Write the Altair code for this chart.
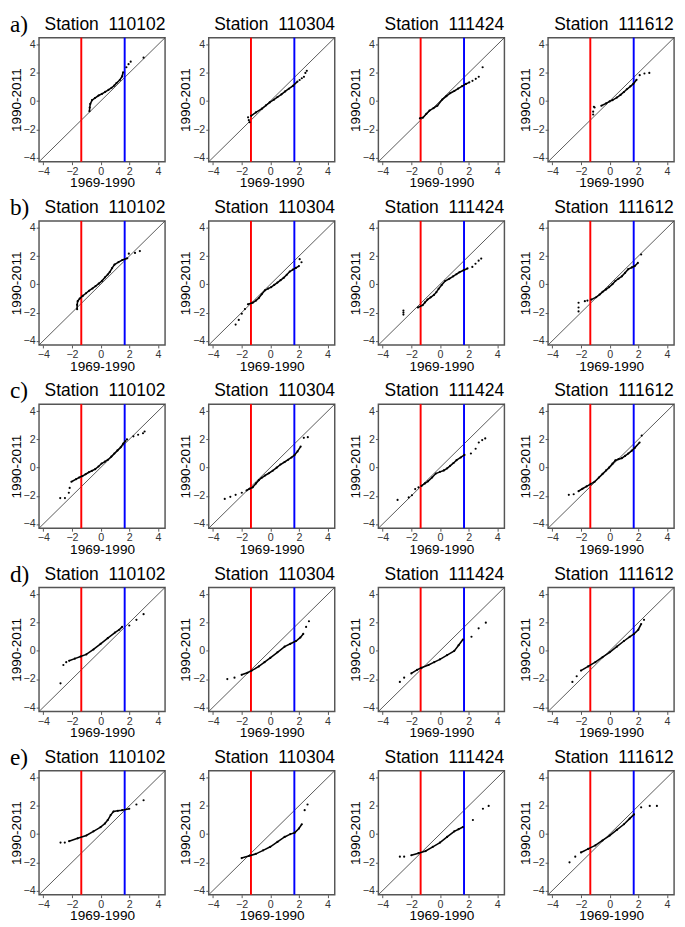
import altair as alt
import pandas as pd

# ---------------- data ----------------
STATIONS = ["110102", "110304", "111424", "111612"]
ROW_LABELS = ["a)", "b)", "c)", "d)", "e)"]
TICKS = [-4, -2, 0, 2, 4]
DOMAIN = [-4.3, 4.5]
RED_X = [-1.35]
BLUE_X = [1.68]
DIAG = [-4.3, 4.5]

# row a
A1_BODY = [(-0.78, -0.72), (-0.76, -0.45), (-0.72, -0.2), (-0.6, 0.07), (-0.4, 0.22), (-0.14, 0.4), (0.1, 0.52),
           (0.32, 0.66), (0.55, 0.8), (0.77, 0.95), (0.95, 1.1), (1.11, 1.28), (1.34, 1.5), (1.5, 1.75), (1.57, 2.05)]
A1_TAIL = [(1.8, 2.4), (1.95, 2.62), (2.1, 2.8), (3.0, 3.08)]
A2_BODY = [(-1.34, -1.04), (-1.0, -0.8), (-0.58, -0.53), (-0.3, -0.3), (-0.04, -0.09), (0.25, 0.1), (0.5, 0.29),
           (0.78, 0.48), (1.04, 0.69), (1.3, 0.88), (1.58, 1.08), (1.9, 1.39)]
A2_TAIL = [(-1.55, -1.15), (-1.5, -1.35), (-1.45, -1.5), (2.05, 1.5), (2.2, 1.62), (2.35, 1.72), (2.45, 2.0), (2.55, 2.15)]
A3_BODY = [(-1.4, -1.22), (-1.18, -1.16), (-0.95, -0.9), (-0.73, -0.67), (-0.45, -0.5), (-0.18, -0.33), (0.16, 0.11),
           (0.45, 0.35), (0.71, 0.56), (1.0, 0.72), (1.27, 0.89), (1.55, 1.06), (1.82, 1.22), (2.05, 1.33)]
A3_TAIL = [(2.27, 1.44), (2.5, 1.58), (2.71, 1.73), (2.98, 2.4)]
A4_BODY = [(-0.58, -0.33), (-0.25, -0.16), (0.0, -0.02), (0.2, 0.07), (0.5, 0.25), (0.76, 0.44), (1.0, 0.65),
           (1.2, 0.84), (1.45, 1.05), (1.65, 1.22), (1.88, 1.51)]
A4_TAIL = [(-1.1, -0.4), (-1.05, -0.45), (-1.15, -0.75), (-1.15, -0.95), (2.1, 1.84), (2.43, 1.96), (2.77, 2.0)]

# row b
B1_BODY = [(-1.64, -1.76), (-1.64, -1.45), (-1.6, -1.19), (-1.46, -1.01), (-1.25, -0.82), (-1.02, -0.63), (-0.8, -0.45),
           (-0.57, -0.29), (-0.35, -0.12), (-0.13, 0.05), (0.1, 0.25), (0.31, 0.5), (0.5, 0.7), (0.64, 0.88),
           (0.8, 1.15), (0.97, 1.4), (1.25, 1.58), (1.52, 1.73), (1.86, 1.85)]
B1_TAIL = [(1.97, 2.18), (2.4, 2.23), (2.74, 2.36)]
B2_BODY = [(-1.56, -1.41), (-1.23, -1.3), (-1.0, -1.15), (-0.8, -0.97), (-0.6, -0.7), (-0.37, -0.42), (-0.15, -0.3),
           (0.06, -0.2), (0.28, -0.03), (0.5, 0.13), (0.72, 0.3), (0.93, 0.46), (1.15, 0.68), (1.36, 0.91),
           (1.58, 1.05), (1.79, 1.17), (2.0, 1.3)]
B2_TAIL = [(-2.42, -2.85), (-2.2, -2.52), (-1.99, -2.08), (-1.77, -1.75), (2.18, 1.57), (2.05, 1.79)]
B3_BODY = [(-1.54, -1.64), (-1.21, -1.48), (-1.05, -1.28), (-0.87, -1.08), (-0.65, -0.92), (-0.42, -0.75),
           (-0.25, -0.55), (-0.09, -0.31), (0.12, -0.05), (0.36, 0.24), (0.65, 0.4), (0.92, 0.57), (1.15, 0.72),
           (1.36, 0.86), (1.65, 1.0), (1.92, 1.13)]
B3_TAIL = [(-2.55, -1.86), (-2.55, -2.0), (-2.55, -2.14), (2.26, 1.24), (2.48, 1.46), (2.7, 1.68), (2.88, 1.83)]
B4_BODY = [(-1.28, -1.08), (-0.94, -0.91), (-0.7, -0.72), (-0.49, -0.53), (-0.25, -0.36), (-0.04, -0.2), (0.2, 0.02),
           (0.4, 0.24), (0.62, 0.4), (0.85, 0.57), (1.08, 0.82), (1.3, 1.08), (1.55, 1.2), (1.75, 1.3), (1.97, 1.52)]
B4_TAIL = [(-2.17, -1.3), (-2.17, -1.64), (-2.17, -1.92), (-1.73, -1.19), (-1.55, -1.15), (2.2, 2.12)]

# row c
C1_BODY = [(-2.04, -1.0), (-1.71, -0.82), (-1.5, -0.7), (-1.27, -0.6), (-1.05, -0.47), (-0.82, -0.33), (-0.6, -0.22),
           (-0.38, -0.11), (-0.15, 0.08), (0.07, 0.29), (0.3, 0.42), (0.51, 0.56), (0.75, 0.78), (0.96, 1.0),
           (1.18, 1.22), (1.4, 1.44), (1.58, 1.7), (1.73, 1.89)]
C1_TAIL = [(-2.82, -2.16), (-2.49, -2.16), (-2.22, -1.78), (-2.16, -1.44), (1.84, 2.0), (2.29, 2.22), (2.62, 2.33),
           (2.96, 2.44), (3.07, 2.56)]
C2_BODY = [(-1.66, -1.62), (-1.45, -1.5), (-1.23, -1.4), (-1.0, -1.12), (-0.8, -0.89), (-0.6, -0.72), (-0.37, -0.56),
           (-0.1, -0.4), (0.17, -0.22), (0.45, 0.0), (0.71, 0.22), (1.0, 0.4), (1.25, 0.56), (1.48, 0.72),
           (1.69, 0.89), (1.9, 1.15), (2.12, 1.49)]
C2_TAIL = [(-3.18, -2.22), (-2.79, -2.07), (-2.42, -1.93), (-1.99, -1.78), (2.34, 2.11), (2.62, 2.16)]
C3_BODY = [(-1.29, -1.3), (-1.05, -1.12), (-0.84, -0.97), (-0.55, -0.7), (-0.29, -0.42), (0.0, -0.3), (0.27, -0.2),
           (0.5, -0.05), (0.71, 0.13), (0.95, 0.33), (1.16, 0.53), (1.45, 0.72), (1.71, 0.9)]
C3_TAIL = [(-2.96, -2.29), (-2.18, -2.11), (-1.96, -1.96), (-1.73, -1.52), (-1.5, -1.4), (2.16, 1.0), (2.49, 1.34),
           (2.71, 1.78), (2.95, 1.95), (3.16, 2.07)]
C4_BODY = [(-2.17, -1.67), (-1.9, -1.5), (-1.61, -1.33), (-1.33, -1.17), (-1.05, -1.0), (-0.75, -0.7), (-0.49, -0.44),
           (-0.25, -0.2), (-0.04, 0.0), (0.2, 0.28), (0.4, 0.51), (0.62, 0.6), (0.85, 0.67), (1.08, 0.83),
           (1.3, 1.0), (1.55, 1.2), (1.75, 1.4), (2.09, 1.78)]
C4_TAIL = [(-2.85, -1.93), (-2.51, -1.89), (2.24, 2.27)]

# row d
D1_BODY = [(-2.2, -0.7), (-1.8, -0.55), (-1.4, -0.4), (-1.0, -0.25), (-0.5, 0.1), (0.0, 0.5), (0.5, 0.9),
           (1.0, 1.3), (1.3, 1.5), (1.5, 1.7)]
D1_TAIL = [(-2.8, -2.3), (-2.6, -1.0), (-2.4, -0.8), (2.0, 1.8), (2.5, 2.2), (3.0, 2.6)]
D2_BODY = [(-2.0, -1.7), (-1.6, -1.55), (-1.3, -1.4), (-0.8, -1.1), (-0.4, -0.8), (0.0, -0.5), (0.5, -0.1),
           (1.0, 0.3), (1.4, 0.5), (1.8, 0.7), (2.1, 0.95), (2.3, 1.2)]
D2_TAIL = [(-3.0, -2.0), (-2.5, -1.9), (2.5, 1.7), (2.7, 2.1)]
D3_BODY = [(-2.0, -1.6), (-1.6, -1.35), (-1.3, -1.2), (-0.8, -1.0), (-0.4, -0.8), (0.0, -0.6), (0.5, -0.3),
           (1.0, 0.0), (1.3, 0.4), (1.6, 0.8)]
D3_TAIL = [(-2.8, -2.2), (-2.5, -1.9), (2.2, 1.0), (2.7, 1.6), (3.2, 2.0)]
D4_BODY = [(-2.0, -1.4), (-1.5, -1.1), (-1.0, -0.8), (-0.5, -0.45), (0.0, -0.1), (0.5, 0.3), (1.0, 0.7),
           (1.4, 1.0), (1.7, 1.2), (2.0, 1.5), (2.2, 1.9)]
D4_TAIL = [(-2.6, -2.2), (-2.3, -1.8), (2.4, 2.2)]

# row e
E1_BODY = [(-2.2, -0.5), (-1.6, -0.3), (-1.0, -0.1), (-0.5, 0.2), (0.0, 0.5), (0.3, 0.75), (0.5, 1.0),
           (0.7, 1.35), (0.9, 1.6), (1.2, 1.65), (1.5, 1.7), (2.0, 1.8)]
E1_TAIL = [(-2.8, -0.6), (-2.5, -0.6), (2.5, 2.1), (3.0, 2.4)]
E2_BODY = [(-2.0, -1.7), (-1.5, -1.55), (-1.0, -1.4), (-0.5, -1.15), (0.0, -0.9), (0.5, -0.55), (1.0, -0.2),
           (1.4, 0.0), (1.7, 0.1), (2.0, 0.4), (2.2, 0.7)]
E2_TAIL = [(2.4, 1.7), (2.6, 2.1)]
E3_BODY = [(-2.0, -1.5), (-1.5, -1.35), (-1.0, -1.2), (-0.5, -0.9), (0.0, -0.6), (0.5, -0.2), (1.0, 0.2),
           (1.3, 0.35), (1.6, 0.5)]
E3_TAIL = [(-2.8, -1.6), (-2.5, -1.6), (2.3, 1.0), (3.0, 1.8), (3.4, 2.0)]
E4_BODY = [(-2.0, -1.3), (-1.5, -1.05), (-1.0, -0.8), (-0.5, -0.45), (0.0, -0.1), (0.5, 0.3), (1.0, 0.7),
           (1.4, 1.1), (1.7, 1.4)]
E4_TAIL = [(-2.8, -2.0), (-2.4, -1.6), (2.2, 1.9), (2.8, 2.0), (3.3, 2.0)]

PANELS = [
    [(A1_BODY, A1_TAIL), (A2_BODY, A2_TAIL), (A3_BODY, A3_TAIL), (A4_BODY, A4_TAIL)],
    [(B1_BODY, B1_TAIL), (B2_BODY, B2_TAIL), (B3_BODY, B3_TAIL), (B4_BODY, B4_TAIL)],
    [(C1_BODY, C1_TAIL), (C2_BODY, C2_TAIL), (C3_BODY, C3_TAIL), (C4_BODY, C4_TAIL)],
    [(D1_BODY, D1_TAIL), (D2_BODY, D2_TAIL), (D3_BODY, D3_TAIL), (D4_BODY, D4_TAIL)],
    [(E1_BODY, E1_TAIL), (E2_BODY, E2_TAIL), (E3_BODY, E3_TAIL), (E4_BODY, E4_TAIL)],
]

# ---------------- chart ----------------
W = 130
H = 128
FONT = "Liberation Sans"

scale = alt.Scale(domain=DOMAIN, nice=False, zero=False)
X = alt.X("x:Q", scale=scale,
          axis=alt.Axis(values=TICKS, title="1969-1990", labelFlush=False))
Y = alt.Y("y:Q", scale=scale,
          axis=alt.Axis(values=TICKS, title="1990-2011", labelFlush=False))


def panel(body, tail, station, row_label):
    bdf = pd.DataFrame(body, columns=["x", "y"])
    tdf = pd.DataFrame(tail, columns=["x", "y"])
    ddf = pd.DataFrame({"x": DIAG, "y": DIAG})
    rdf = pd.DataFrame({"x": RED_X})
    bldf = pd.DataFrame({"x": BLUE_X})

    diag = alt.Chart(ddf).mark_line(color="#444", strokeWidth=0.9).encode(x=X, y=Y)
    red = alt.Chart(rdf).mark_rule(color="#ff0000", strokeWidth=2).encode(x=X)
    blue = alt.Chart(bldf).mark_rule(color="#0000ff", strokeWidth=2).encode(x=X)
    bline = alt.Chart(bdf).mark_line(color="black", strokeWidth=1.6).encode(x=X, y=Y)
    bpts = alt.Chart(bdf).mark_circle(color="black", size=5, opacity=1).encode(x=X, y=Y)
    tpts = alt.Chart(tdf).mark_circle(color="black", size=5, opacity=1).encode(x=X, y=Y)
    title = alt.Chart(pd.DataFrame({"t": ["Station\u00a0\u00a0" + station]})).mark_text(
        font=FONT, fontSize=18, align="center", baseline="top", color="black"
    ).encode(x=alt.value(W / 2 + 3), y=alt.value(-22), text="t:N")
    layers = [diag, red, blue, bline, bpts, tpts, title]
    if row_label is not None:
        lab = alt.Chart(pd.DataFrame({"t": [row_label]})).mark_text(
            font="Liberation Serif", fontSize=24, align="left", baseline="top", color="black"
        ).encode(x=alt.value(-30), y=alt.value(-25), text="t:N")
        layers.append(lab)
    return alt.layer(*layers).properties(width=W, height=H)


rows = []
for r, row in enumerate(PANELS):
    charts = []
    for c, (body, tail) in enumerate(row):
        charts.append(panel(body, tail, STATIONS[c], ROW_LABELS[r] if c == 0 else None))
    rows.append(alt.hconcat(*charts, spacing=10))

chart = alt.vconcat(*rows, spacing=5).properties(
    padding={"left": 0, "top": -10, "right": 0, "bottom": 0}
).configure_view(
    stroke="#555", strokeWidth=1.5
).configure_axis(
    grid=False, domain=False, labelFont=FONT, labelFontSize=11, labelColor="#333",
    titleFont=FONT, titleFontSize=14, titleFontWeight="normal", titleColor="black",
    tickSize=3, tickColor="#555", labelPadding=1, titlePadding=0,
)

chart.save("out.html", embed_options={"renderer": "svg", "actions": False})
